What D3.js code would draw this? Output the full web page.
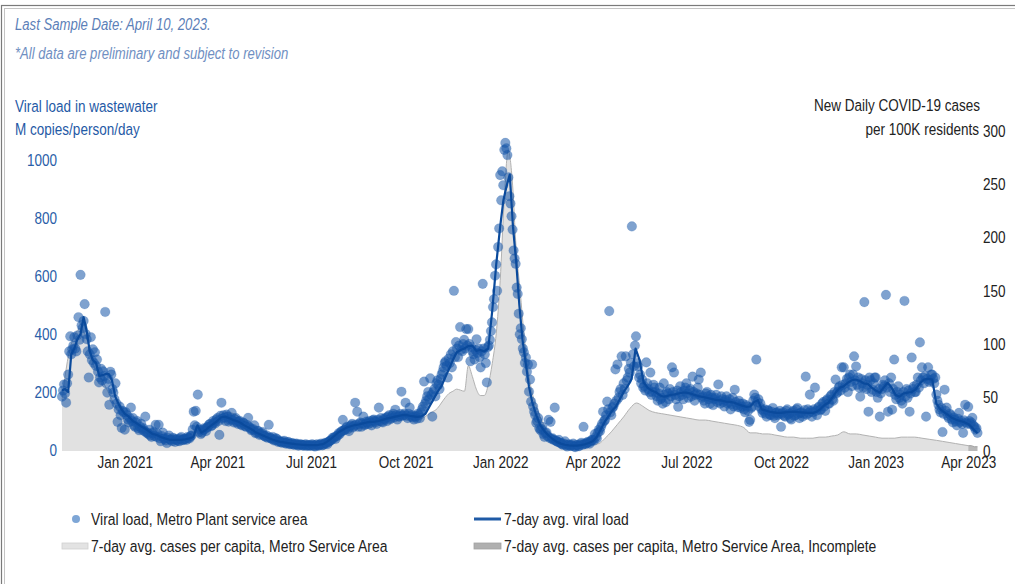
<!DOCTYPE html>
<html>
<head>
<meta charset="utf-8">
<script src="https://cdn.jsdelivr.net/npm/d3@7"></script>
<style>
  body { margin: 0; background: #fff; }
  text { font-family: "Liberation Sans", Arial, sans-serif; }
</style>
</head>
<body>
<svg id="chart" width="1015" height="584"></svg>
<script>
/* ---------- data : one row per month, values spread evenly inside the month ---------- */
const months = ["2020-11", "2020-12",
  "2021-01", "2021-02", "2021-03", "2021-04", "2021-05", "2021-06", "2021-07", "2021-08", "2021-09", "2021-10", "2021-11", "2021-12",
  "2022-01", "2022-02", "2022-03", "2022-04", "2022-05", "2022-06", "2022-07", "2022-08", "2022-09", "2022-10", "2022-11", "2022-12",
  "2023-01", "2023-02", "2023-03", "2023-04"]

// daily viral load samples, M copies/person/day
const viralDots = [
  [184, 205, 226, 195, 163, 230, 260, 340, 392, 330, 347, 360, 389, 350, 340, 395, 458, 380, 604, 430, 420, 445, 503, 400, 382, 340, 250, 330, 389, 310],
  [347, 300, 337, 290, 312, 270, 233, 250, 280, 240, 271, 255, 476, 230, 198, 245, 156, 270, 260, 210, 198, 175, 230, 160, 97, 140, 150, 120, 76, 135, 130],
  [70, 130, 120, 105, 95, 110, 146, 100, 110, 85, 80, 95, 100, 75, 68, 80, 90, 70, 75, 65, 115, 60, 60, 55, 70, 50, 45, 58, 62, 48, 87],
  [45, 55, 87, 40, 30, 48, 60, 38, 40, 33, 24, 42, 50, 36, 35, 30, 42, 38, 28, 35, 38, 32, 30, 40, 45, 34, 35, 38],
  [38, 35, 45, 42, 40, 48, 50, 70, 132, 85, 135, 80, 191, 62, 70, 55, 60, 68, 75, 72, 65, 78, 80, 88, 90, 82, 85, 100, 95, 92, 105],
  [110, 100, 52, 118, 163, 108, 120, 112, 100, 122, 115, 98, 105, 110, 128, 102, 95, 106, 110, 96, 90, 98, 100, 88, 85, 95, 92, 82, 80, 86],
  [111, 80, 75, 68, 70, 72, 85, 58, 60, 66, 65, 52, 55, 58, 62, 50, 48, 45, 50, 42, 87, 44, 40, 38, 45, 33, 35, 40, 38, 28, 30],
  [30, 27, 25, 29, 32, 24, 22, 26, 28, 21, 20, 23, 24, 19, 18, 21, 22, 17, 15, 19, 20, 18, 16, 15, 18, 20, 14, 16, 17, 15],
  [15, 20, 18, 14, 12, 17, 20, 15, 16, 19, 22, 16, 18, 21, 25, 24, 20, 28, 30, 33, 35, 42, 40, 45, 38, 48, 50, 58, 55, 62, 65],
  [104, 68, 70, 75, 80, 72, 65, 82, 85, 90, 78, 84, 163, 88, 132, 80, 90, 95, 80, 92, 115, 86, 88, 98, 95, 90, 100, 94, 85, 102, 105],
  [100, 96, 90, 104, 146, 100, 110, 98, 95, 108, 105, 112, 100, 115, 120, 106, 110, 118, 125, 112, 139, 120, 105, 116, 115, 124, 201, 118, 120, 126],
  [163, 118, 110, 125, 146, 115, 120, 112, 105, 118, 115, 108, 125, 120, 110, 130, 140, 150, 236, 160, 170, 185, 200, 175, 247, 190, 115, 200, 210, 185, 230],
  [240, 225, 210, 245, 260, 270, 285, 300, 306, 290, 250, 315, 300, 330, 285, 340, 549, 320, 372, 350, 320, 360, 424, 345, 340, 365, 380, 350, 417, 360],
  [417, 365, 306, 355, 340, 330, 312, 345, 382, 335, 350, 320, 285, 340, 573, 350, 330, 300, 233, 355, 360, 380, 410, 440, 493, 520, 601, 640, 549, 700, 764],
  [948, 861, 961, 913, 1035, 1059, 1040, 1017, 940, 875, 850, 806, 760, 688, 660, 642, 560, 538, 470, 399, 420, 382, 350, 337, 300, 319, 270, 295, 201, 243, 167],
  [295, 150, 132, 120, 94, 100, 110, 75, 69, 72, 80, 55, 45, 58, 60, 48, 104, 42, 97, 38, 40, 35, 146, 32, 30, 28, 35, 25],
  [25, 20, 18, 22, 30, 16, 12, 18, 20, 14, 15, 17, 22, 12, 10, 16, 18, 13, 14, 20, 25, 18, 80, 22, 20, 24, 28, 26, 22, 30, 35],
  [35, 32, 55, 45, 40, 60, 70, 65, 80, 90, 132, 100, 104, 120, 167, 140, 479, 130, 120, 145, 150, 160, 278, 170, 295, 180, 200, 210, 323, 190],
  [230, 210, 323, 240, 250, 280, 267, 300, 771, 330, 288, 360, 392, 300, 288, 250, 260, 230, 243, 215, 220, 205, 302, 230, 210, 200, 267, 190, 200, 225, 215],
  [200, 185, 170, 195, 215, 175, 180, 160, 230, 190, 165, 200, 195, 175, 210, 185, 285, 200, 267, 190, 175, 205, 149, 185, 220, 200, 190, 175, 205, 215],
  [230, 195, 180, 205, 210, 185, 253, 200, 170, 190, 195, 215, 243, 190, 267, 180, 185, 170, 160, 195, 200, 185, 175, 160, 190, 180, 155, 175, 180, 190, 165],
  [226, 170, 160, 185, 175, 165, 150, 172, 185, 160, 165, 175, 140, 158, 180, 150, 208, 165, 155, 148, 170, 160, 145, 150, 160, 140, 130, 155, 150, 135, 97],
  [104, 145, 150, 170, 191, 180, 312, 165, 175, 150, 160, 140, 128, 135, 140, 125, 115, 138, 135, 122, 120, 132, 145, 118, 110, 128, 130, 120, 125, 135],
  [80, 125, 130, 118, 115, 135, 140, 122, 125, 110, 105, 130, 135, 118, 120, 140, 145, 125, 110, 128, 130, 115, 125, 138, 253, 122, 140, 128, 191, 135, 115],
  [130, 140, 215, 135, 120, 145, 150, 138, 140, 160, 165, 150, 135, 170, 175, 160, 160, 185, 190, 175, 170, 200, 243, 195, 200, 215, 220, 205, 285, 225],
  [285, 215, 230, 245, 200, 250, 260, 235, 220, 260, 323, 240, 288, 225, 250, 215, 184, 245, 230, 215, 510, 240, 210, 225, 132, 250, 240, 200, 208, 230, 250],
  [250, 200, 180, 210, 115, 195, 210, 225, 220, 240, 535, 215, 132, 230, 200, 250, 139, 210, 312, 190, 175, 200, 220, 180, 190, 170, 160, 200, 514, 185, 210],
  [180, 205, 132, 195, 319, 210, 219, 200, 200, 225, 250, 215, 371, 240, 285, 250, 230, 255, 115, 245, 285, 235, 240, 260, 260, 245, 230, 250],
  [191, 170, 156, 140, 130, 145, 62, 125, 208, 135, 146, 118, 110, 125, 120, 105, 95, 112, 105, 98, 85, 108, 128, 95, 100, 90, 59, 102, 156, 95, 90],
  [149, 100, 90, 95, 111, 85, 80, 70, 75, 59]
]

// 7-day average viral load
const viralAvg = [
  [205, 210, 200, 330, 350, 382, 400, 458, 410, 340],
  [310, 300, 255, 258, 262, 262, 240, 185, 160, 140],
  [125, 115, 100, 92, 82, 75, 65, 55],
  [52, 45, 40, 36, 35, 35, 35],
  [37, 40, 45, 85, 60, 68, 80, 90],
  [100, 113, 115, 110, 104, 100, 94, 85],
  [78, 70, 60, 54, 48, 42, 36, 32],
  [28, 26, 24, 22, 20, 19, 18, 17],
  [17, 17, 18, 20, 28, 38, 50, 62],
  [70, 78, 82, 86, 88, 92, 95, 97],
  [98, 100, 104, 108, 111, 114, 117, 120],
  [121, 118, 116, 114, 116, 125, 150, 175],
  [200, 220, 250, 280, 310, 337, 345, 350],
  [358, 360, 342, 345, 340, 350, 480, 640],
  [771, 861, 910, 950, 771, 650, 500, 380, 300, 220],
  [167, 120, 85, 65, 50, 38, 28],
  [22, 18, 16, 15, 15, 17, 20, 24],
  [30, 45, 70, 95, 115, 135, 150, 175],
  [200, 220, 245, 350, 310, 233, 215, 205],
  [200, 190, 184, 186, 190, 192, 195, 198],
  [198, 195, 190, 186, 183, 180, 177, 174],
  [172, 170, 167, 166, 163, 158, 153, 149],
  [150, 165, 172, 140, 136, 132, 130, 128],
  [128, 130, 131, 132, 131, 130, 129, 128],
  [128, 132, 142, 155, 163, 180, 200, 215],
  [220, 232, 240, 243, 238, 230, 228, 215],
  [205, 198, 215, 232, 215, 190, 184, 195],
  [198, 200, 210, 230, 243, 245, 243],
  [160, 140, 130, 120, 110, 104, 100, 96],
  [90, 80, 68, 58]
]

// 7-day average new cases per 100K residents
const casesAvg = [
  [48, 88, 108, 115, 105],
  [82, 72, 60, 48, 38],
  [30, 27, 24, 21, 18],
  [16, 15, 14, 14],
  [15, 17, 20, 24, 28],
  [32, 35, 36, 34, 30],
  [25, 19, 14, 10, 7],
  [5, 4, 3, 3, 3],
  [3, 4, 5, 8, 12],
  [15, 18, 20, 22, 24],
  [26, 28, 29, 30, 31],
  [32, 30, 30, 32, 36],
  [40, 45, 50, 54, 56, 58, 57, 56],
  [80, 70, 58, 52, 52, 62, 82, 110],
  [160, 235, 282, 255, 190, 150, 108, 75],
  [55, 38, 25, 17, 13],
  [10, 8, 7, 6, 6],
  [6, 7, 12, 18, 25],
  [32, 40, 45, 42, 38],
  [36, 35, 34, 33, 32],
  [31, 30, 29, 29, 28],
  [27, 26, 25, 24, 22],
  [17, 17, 16, 16, 15],
  [14, 13, 13, 12, 12],
  [12, 13, 13, 14, 15],
  [18, 16, 16, 15, 14],
  [13, 12, 12, 12, 13],
  [13, 13, 12, 11],
  [10, 9, 8, 7, 6],
  [5, 5, 4, 4]
]

const leftTicks = [0, 200, 400, 600, 800, 1000]
const rightTicks = [0, 50, 100, 150, 200, 250, 300]
const dateTicks = ["2021-01", "2021-04", "2021-07", "2021-10", "2022-01", "2022-04",
  "2022-07", "2022-10", "2023-01", "2023-04"]
const firstDay = "2020-11-01"
const lastDay = "2023-04-10"
const incompleteFrom = "2023-04-03"

/* ---------- setup ---------- */
let svg = d3.select("#chart")
let squeeze = 0.82   // the original uses a condensed face
let parseMonth = d3.timeParse("%Y-%m")
let parseDay = d3.timeParse("%Y-%m-%d")
let dStart = parseDay(firstDay)
let dEnd = parseDay(lastDay)

let x = d3.scaleTime().domain([dStart, dEnd]).range([62, 977.5])
let yLeft = d3.scaleLinear().domain([0, 1100]).range([450, 131])
let yRight = d3.scaleLinear().domain([0, 300]).range([451, 131])

// spread each month's values over the days of that month
function spread(rows) {
  let out = []
  rows.forEach(function (vals, m) {
    let start = parseMonth(months[m])
    let last = m === months.length - 1
    let span = last ? (dEnd - start) : (d3.timeMonth.offset(start, 1) - start)
    let step = last ? span / (vals.length - 1) : span / vals.length
    vals.forEach(function (v, i) {
      out.push({ date: new Date(+start + i * step), value: v })
    })
  })
  return out
}

// condensed text helper
function addText(parent, tx, ty, str, size, color, anchor, italic) {
  let g = parent.append("g").attr("transform", "translate(" + tx + "," + ty + ") scale(" + squeeze + ",1)")
  return g.append("text")
      .attr("font-size", size)
      .attr("fill", color)
      .attr("text-anchor", anchor || "start")
      .attr("font-style", italic ? "italic" : null)
      .text(str)
}

let dots = spread(viralDots)
let avg = spread(viralAvg)
let cases = spread(casesAvg)
let cut = parseDay(incompleteFrom)
let casesDone = cases.filter(function (d) { return d.date <= cut })
let casesIncomplete = cases.filter(function (d, i) {
  return d.date >= cut || (cases[i + 1] && cases[i + 1].date > cut && d.date <= cut)
})

/* ---------- frame ---------- */
svg.append("rect").attr("x", 1.5).attr("y", 5.5).attr("width", 1100).attr("height", 700)
    .attr("fill", "none").attr("stroke", "#7a7a7a").attr("stroke-width", 1.2)
svg.append("rect").attr("x", 4.5).attr("y", 8.5).attr("width", 1100).attr("height", 700)
    .attr("fill", "none").attr("stroke", "#c4c4c4").attr("stroke-width", 1)

/* ---------- header texts ---------- */
addText(svg, 15, 30, "Last Sample Date: April 10, 2023.", 16, "#5c80b8", "start", true)
addText(svg, 15, 59, "*All data are preliminary and subject to revision", 16, "#6f8fc2", "start", true)

addText(svg, 15, 112, "Viral load in wastewater", 16.5, "#1f5aa6")
addText(svg, 15, 135, "M copies/person/day", 16.5, "#1f5aa6")

addText(svg, 980, 111, "New Daily COVID-19 cases", 16.5, "#222", "end")
addText(svg, 979, 135, "per 100K residents", 16.5, "#222", "end")

/* ---------- cases area ---------- */
let area = d3.area()
    .x(function (d) { return x(d.date) })
    .y0(yRight(0))
    .y1(function (d) { return yRight(d.value) })
    .curve(d3.curveMonotoneX)
let topLine = d3.line()
    .x(function (d) { return x(d.date) })
    .y(function (d) { return yRight(d.value) })
    .curve(d3.curveMonotoneX)

svg.append("path").datum(casesDone).attr("d", area).attr("fill", "#e1e1e1")
svg.append("path").datum(casesDone).attr("d", topLine).attr("fill", "none")
    .attr("stroke", "#b2b2b2").attr("stroke-width", 1)
svg.append("path").datum(casesIncomplete).attr("d", area).attr("fill", "#b8b8b8")
svg.append("path").datum(casesIncomplete).attr("d", topLine).attr("fill", "none")
    .attr("stroke", "#a0a0a0").attr("stroke-width", 1)

/* ---------- viral load dots + 7-day line ---------- */
svg.append("g").selectAll("circle")
    .data(dots)
    .enter()
    .append("circle")
    .attr("cx", function (d) { return x(d.date) })
    .attr("cy", function (d) { return yLeft(d.value) })
    .attr("r", 4.8)
    .attr("fill", "#1656a8")
    .attr("fill-opacity", 0.55)
    .attr("stroke", "#1656a8")
    .attr("stroke-opacity", 0.2)
    .attr("stroke-width", 0.8)

svg.append("path").datum(avg)
    .attr("d", d3.line()
        .x(function (d) { return x(d.date) })
        .y(function (d) { return yLeft(d.value) }))
    .attr("fill", "none")
    .attr("stroke", "#0a4a9c")
    .attr("stroke-width", 2.2)
    .attr("stroke-linejoin", "round")

/* ---------- axes ---------- */
let axLeft = svg.append("g").attr("transform", "translate(57,0)")
    .call(d3.axisLeft(yLeft).tickValues(leftTicks).tickSize(0).tickPadding(0).tickFormat(d3.format("d")))
axLeft.select(".domain").remove()
axLeft.selectAll("text").attr("font-size", 16.5).attr("fill", "#2a5ea8")
    .attr("font-family", null).attr("transform", "scale(" + squeeze + ",1)")

let axRight = svg.append("g").attr("transform", "translate(983,0)")
    .call(d3.axisRight(yRight).tickValues(rightTicks).tickSize(0).tickPadding(0))
axRight.select(".domain").remove()
axRight.selectAll("text").attr("font-size", 16.5).attr("fill", "#222")
    .attr("font-family", null).attr("transform", "scale(" + squeeze + ",1)")

let axBottom = svg.append("g").attr("transform", "translate(0,452)")
    .call(d3.axisBottom(x).tickValues(dateTicks.map(parseMonth)).tickSize(0).tickPadding(4)
        .tickFormat(d3.timeFormat("%b %Y")))
axBottom.select(".domain").remove()
axBottom.selectAll("text").attr("font-size", 16.5).attr("fill", "#222")
    .attr("font-family", null).attr("transform", "scale(" + squeeze + ",1)")

/* ---------- legend ---------- */
let lg = svg.append("g")
lg.append("circle").attr("cx", 76).attr("cy", 519).attr("r", 4).attr("fill", "#7ea6d6")
addText(lg, 91, 525, "Viral load, Metro Plant service area", 17, "#222")
lg.append("line").attr("x1", 474).attr("x2", 501).attr("y1", 519).attr("y2", 519)
    .attr("stroke", "#1f5aa6").attr("stroke-width", 3)
addText(lg, 504, 525, "7-day avg. viral load", 17, "#222")
lg.append("rect").attr("x", 62).attr("y", 543).attr("width", 26).attr("height", 6)
    .attr("fill", "#e3e3e3").attr("stroke", "#d0d0d0").attr("stroke-width", 0.8)
addText(lg, 91, 552, "7-day avg. cases per capita, Metro Service Area", 17, "#222")
lg.append("rect").attr("x", 474).attr("y", 543).attr("width", 27).attr("height", 6)
    .attr("fill", "#b0b0b0").attr("stroke", "#a4a4a4").attr("stroke-width", 0.8)
addText(lg, 504, 552, "7-day avg. cases per capita, Metro Service Area, Incomplete", 17, "#222")
</script>
</body>
</html>
